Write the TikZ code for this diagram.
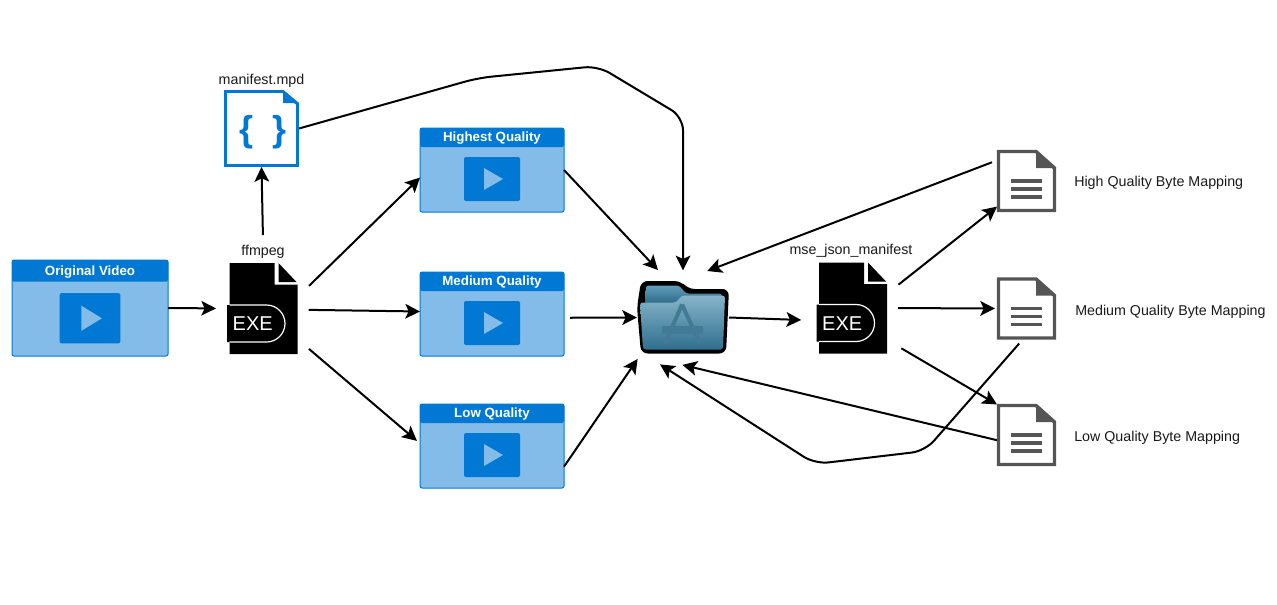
\documentclass[tikz,border=0pt]{standalone}
\usepackage{fontspec}
\setmainfont{Liberation Sans}
\usetikzlibrary{calc,arrows.meta}
\definecolor{vidblue}{HTML}{0078D4}
\definecolor{vidlight}{HTML}{83BBE9}
\definecolor{docgray}{HTML}{555555}
\definecolor{foldertop}{HTML}{86B4C9}
\definecolor{folderlow}{HTML}{2F6F8E}
\definecolor{tabtop}{HTML}{5F9DB9}
\definecolor{tablow}{HTML}{2A6785}
\definecolor{appmark}{HTML}{437A94}
\def\px{0.75pt}
\tikzset{
link/.style={line width=1.5pt,-{Stealth[length=11pt,width=11pt,inset=2.5pt]}},
bendlink/.style={link,rounded corners=10pt},
iconbox/.style={inner sep=0pt,outer sep=0pt},
lab/.style={font=\fontsize{10.7}{12}\selectfont,text=black!90},
vidbody/.style={iconbox,draw=vidblue,fill=vidlight,line width=0.75pt,rounded corners=1.5pt}
}
\newcommand{\videobox}[5]{
\node[vidbody,minimum width=2*#4*\px,minimum height=2*#5*\px] (#1) at (#2) {};
\begin{scope}[shift={(#1.center)},xscale=#4/72,yscale=#5/42]
\fill[vidblue,rounded corners=1.2pt] (-72,-42) rectangle (72,-23);
\fill[vidblue,rounded corners=1.5pt] (-28,-13) rectangle (28,31);
\fill[vidlight] (-8,-2) -- (11,9) -- (-8,20) -- cycle;
\path (0,-31.5) node[font=\fontsize{10}{12}\selectfont\bfseries,text=white] (#1title) {#3};
\end{scope}
}
\newcommand{\exefile}[2]{
\node[iconbox,minimum width=69*\px,minimum height=91*\px] (#1) at (#2) {};
\begin{scope}[shift={(#1.center)}]
\fill[black] (-34,-45.5) -- (11,-45.5) -- (11,-24) -- (34,-24) -- (34,45.5) -- (-34,45.5) -- cycle;
\fill[black] (15,-45.5) -- (33,-26.5) -- (15,-26.5) -- cycle;
\fill[black] (-36.5,-3.5) -- (3,-3.5) arc (-90:90:18.5) -- (-36.5,33.5) -- cycle;
\draw[white,line width=0.9pt] (-34,-3.5) -- (3,-3.5) arc (-90:90:18.5) -- (-34,33.5);
\path (-10.8,15.5) node[font=\fontsize{15}{15}\selectfont,text=white,inner sep=0pt] (#1text) {EXE};
\end{scope}
}
\newcommand{\docfile}[2]{
\node[iconbox,minimum width=59*\px,minimum height=62*\px] (#1) at (#2) {};
\begin{scope}[shift={(#1.center)}]
\draw[docgray,line width=2.6pt,line join=miter] (-28,-29.5) -- (9.5,-29.5) -- (28,-13) -- (28,29.5) -- (-28,29.5) -- cycle;
\fill[docgray] (9.5,-31) -- (29.5,-13) -- (9.5,-13) -- cycle;
\foreach \y in {0,8,16} \draw[docgray,line width=2.4pt] (-15.5,\y) -- (15.5,\y);
\end{scope}
}
\newcommand{\appfolder}[2]{
\node[iconbox,minimum width=92*\px,minimum height=73*\px] (#1) at (#2) {};
\begin{scope}[shift={(#1.center)}]
\fill[black,rounded corners=5pt] (-46,-10) -- (-42,-36.5) -- (-2,-36.5) -- (5,-28.5) -- (46,-28.5) -- (43,36) -- (-42,36) -- cycle;
\shade[top color=tabtop,bottom color=tablow,rounded corners=2pt] (-38,-13) -- (-37,-32) -- (-4,-32) -- (3,-24) -- (39,-24) -- (39,-13) -- cycle;
\shade[top color=foldertop,bottom color=folderlow,rounded corners=2pt] (-43,-15) -- (-7,-15) -- (-1,-22) -- (42,-22) -- (40,32) -- (-40,32) -- cycle;
\fill[appmark] (-21,8) rectangle (20,16);
\draw[appmark,line width=3pt] (-1,-13) -- (-18,26);
\draw[appmark,line width=3pt] (-1,-13) -- (17,26);
\end{scope}
}
\begin{document}
\begin{tikzpicture}[x=\px,y=-\px]
\useasboundingbox (0,0) rectangle (1277,604);
\videobox{orig}{90,308}{Original Video}{78}{48}
\videobox{high}{492,170}{Highest Quality}{72}{42}
\videobox{med}{492,314}{Medium Quality}{72}{42}
\videobox{low}{492,446}{Low Quality}{72}{42}
\exefile{ffmpeg}{263.5,308.5}
\exefile{mse}{853,308}
\appfolder{folder}{683,317.5}
\docfile{highmap}{1026.5,181}
\docfile{medmap}{1026.5,308.5}
\docfile{lowmap}{1026.5,435}
\node[iconbox,minimum width=75*\px,minimum height=77*\px] (mpd) at (261.5,128.5) {};
\draw[vidblue,fill=white,line width=2.2pt,line join=miter] (225.5,91.5) -- (283,91.5) -- (297.5,104) -- (297.5,165.5) -- (225.5,165.5) -- cycle;
\fill[vidblue] (283,90) -- (299,103) -- (283,103) -- cycle;
\path (247,132) node[font=\fontsize{27}{27}\selectfont\bfseries,text=vidblue,inner sep=0pt] (openbrace) {\{};
\path (280,132) node[font=\fontsize{27}{27}\selectfont\bfseries,text=vidblue,inner sep=0pt] (closebrace) {\}};
\path (261.5,80.5) node[lab] (mpdlabel) {manifest.mpd};
\path (263,252) node[lab] (ffmpeglabel) {ffmpeg};
\path (851,251) node[lab] (mselabel) {mse\_json\_manifest};
\path (1074,183) node[lab,anchor=west,inner sep=0pt] (highlabel) {High Quality Byte Mapping};
\path (1075,312) node[lab,anchor=west,inner sep=0pt] (medlabel) {Medium Quality Byte Mapping};
\path (1074,438) node[lab,anchor=west,inner sep=0pt] (lowlabel) {Low Quality Byte Mapping};
\coordinate (mpdbend1) at (478,78);
\coordinate (mpdbend2) at (598,66);
\coordinate (mpdbend3) at (683,117);
\coordinate (medbend1) at (925,451);
\coordinate (medbend2) at (815,464);
\draw[link,shorten >=9.75pt] (orig.east) -- (ffmpeg.west);
\draw[link,shorten <=21pt] (ffmpeg.north) -- (mpd.south);
\draw[link,shorten <=11.5pt] (ffmpeg.19) -- (high.186);
\draw[link,shorten <=8pt] (ffmpeg.-2) -- (med.178);
\draw[link,shorten <=10.8pt,shorten >=3pt] (ffmpeg.-42) -- (low.178);
\draw[link,shorten >=11.3pt] (high.east) -- (folder.112);
\draw[link,shorten <=4.5pt] (med.-3) -- (folder.west);
\draw[link,shorten >=4.5pt] (low.-16) -- (folder.221);
\draw[bendlink,shorten >=8pt] (mpd.east) -- (mpdbend1) -- (mpdbend2) -- (mpdbend3) -- (folder.north);
\draw[link,shorten >=13pt] (folder.east) -- (mse.200);
\draw[link,shorten <=4pt,shorten >=21pt] (highmap.145) -- (folder.93);
\draw[link,shorten <=10.5pt] (mse.23) -- (highmap.221);
\draw[link,shorten <=8pt,shorten >=1.5pt] (mse.east) -- (medmap.west);
\draw[link,shorten <=12pt] (mse.-43) -- (lowmap.134);
\draw[bendlink,shorten <=4pt,shorten >=14.4pt] (medmap.263) -- (medbend1) -- (medbend2) -- (folder.223);
\draw[link,shorten >=35pt] (lowmap.190) -- (folder.south west);
\end{tikzpicture}
\end{document}
